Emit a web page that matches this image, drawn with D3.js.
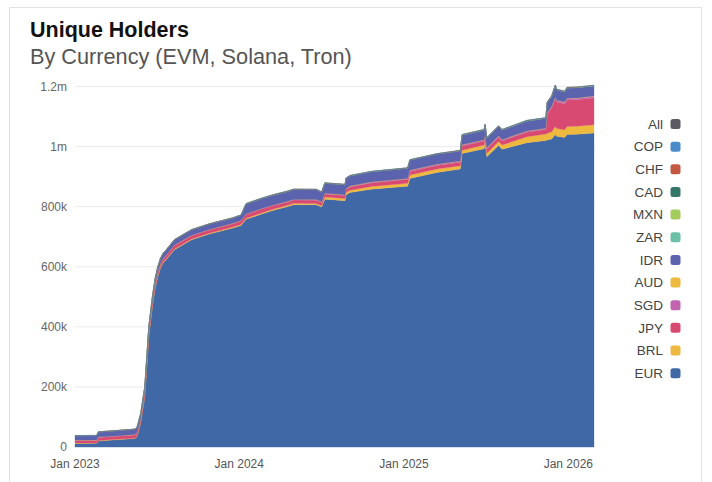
<!DOCTYPE html>
<html>
<head>
<meta charset="utf-8">
<script src="https://cdn.jsdelivr.net/npm/d3@7"></script>
<style>
  html, body { margin: 0; padding: 0; background: #fff; }
  svg { display: block; font-family: "Liberation Sans", Arial, Helvetica, sans-serif; }
</style>
</head>
<body>
<svg id="chart" width="712" height="482"></svg>
<script>
// dates of the sampled points (values in thousands of holders)
const dates = [
  "2023-01-01", "2023-02-18", "2023-02-22", "2023-04-01", "2023-05-14", "2023-05-19", "2023-05-27",
  "2023-06-05", "2023-06-14", "2023-06-22", "2023-06-28", "2023-07-04", "2023-07-10", "2023-07-16",
  "2023-07-23", "2023-08-10", "2023-09-17", "2023-10-28", "2023-12-18", "2024-01-05", "2024-01-16",
  "2024-02-20", "2024-03-15", "2024-04-16", "2024-05-01", "2024-06-20", "2024-07-02", "2024-07-09",
  "2024-08-23", "2024-08-25", "2024-09-03", "2024-10-20", "2025-01-09", "2025-01-14", "2025-03-15",
  "2025-05-06", "2025-05-10", "2025-06-28", "2025-06-30", "2025-07-04", "2025-07-30", "2025-08-07",
  "2025-10-01", "2025-11-12", "2025-11-15", "2025-11-25", "2025-12-03", "2025-12-06", "2025-12-24",
  "2025-12-29", "2026-01-20", "2026-02-27"
];

const eur = [12, 12.5, 20, 24, 28, 35, 79, 168, 368, 468, 527.5, 567.5, 595.5, 612.5, 624, 657, 690, 709.5, 729,
  737.5, 758, 775.5, 787, 799.5, 806.5, 806, 798.5, 825, 820, 839, 847, 858, 868, 894, 914, 925, 977, 993, 1010,
  966, 1004, 991, 1013, 1020, 1022, 1025, 1040, 1034, 1030, 1040, 1041, 1045];
const brl = [1, 1, 1.5, 1.5, 1.5, 1.5, 2, 2, 2.5, 2.5, 2.5, 2.5, 2.5, 2.5, 2.5, 2.5, 2.5, 3, 3, 3.5, 3.5, 3.5, 4,
  4.5, 4.5, 4.5, 4.5, 7, 7, 8, 8, 9, 10, 11, 11, 11, 11, 12, 12, 12, 13, 14, 20, 22, 22, 24, 27, 26, 26, 27, 27, 28];
const jpy = [8, 8, 10, 10, 10.5, 10.5, 11, 11, 11, 11, 11, 11, 11, 11, 11, 11, 11, 11, 11, 11.5, 12.5, 13, 12, 11,
  11, 11, 11, 10, 10, 10, 10.5, 12, 13, 12, 12, 12, 14, 14, 14, 14, 14, 14, 15, 15, 65, 80, 92, 88, 86, 88, 88, 89];
const sgd = [1, 1, 1, 1, 1, 1, 1, 1, 1, 1, 1, 1, 1, 1, 1, 1, 1, 1, 1, 1, 1.5, 1.5, 1.5, 1.5, 1.5, 1.5, 1.5, 2, 2,
  2, 2, 2, 2, 3, 3, 3, 3, 3, 3, 3, 3, 3, 3, 3, 3, 4, 5, 5, 5, 5, 5, 5];
const aud = [0.5, 0.5, 0.5, 0.5, 0.5, 0.5, 0.5, 0.5, 0.5, 0.5, 0.5, 0.5, 0.5, 0.5, 0.5, 0.5, 0.5, 0.5, 0.5, 0.5,
  0.5, 0.5, 0.5, 0.5, 0.5, 0.5, 0.5, 1, 1, 1, 1, 1, 1, 1, 1, 1, 1, 1, 1, 1, 1, 1, 1, 1, 1, 1, 1, 1, 1, 1, 1, 1];
const idr = [15, 15, 17, 17, 17.5, 17.5, 17.5, 17.5, 17.5, 17.5, 17.5, 17.5, 17.5, 17.5, 17.5, 18, 18, 18, 18, 18,
  33, 33, 33, 33, 33, 33, 32, 33, 33, 34, 34, 34, 34, 34, 34, 34, 32, 32, 32, 32, 32, 32, 33, 33, 33, 33, 38, 35,
  34, 34, 34, 34];
const zar = [0.2, 0.2, 0.2, 0.2, 0.2, 0.2, 0.2, 0.2, 0.2, 0.2, 0.2, 0.2, 0.2, 0.2, 0.2, 0.2, 0.2, 0.2, 0.2, 0.2,
  0.4, 0.4, 0.4, 0.4, 0.4, 0.4, 0.4, 0.4, 0.4, 0.4, 0.4, 0.4, 0.4, 0.4, 0.4, 0.4,
  0.6, 0.6, 0.6, 0.6, 0.6, 0.6, 0.6, 0.6, 0.6, 0.6, 0.6, 0.6, 0.6, 0.6, 0.6, 0.6];
const mxn = [0.1, 0.1, 0.1, 0.1, 0.1, 0.1, 0.1, 0.1, 0.1, 0.1, 0.1, 0.1, 0.1, 0.1, 0.1, 0.1, 0.1, 0.1, 0.1, 0.1,
  0.3, 0.3, 0.3, 0.3, 0.3, 0.3, 0.3, 0.3, 0.3, 0.3, 0.3, 0.3, 0.3, 0.3, 0.3, 0.3,
  0.5, 0.5, 0.5, 0.5, 0.5, 0.5, 0.5, 0.5, 0.5, 0.5, 0.5, 0.5, 0.5, 0.5, 0.5, 0.5];
const cad = [0.2, 0.2, 0.2, 0.2, 0.2, 0.2, 0.2, 0.2, 0.2, 0.2, 0.2, 0.2, 0.2, 0.2, 0.2, 0.2, 0.2, 0.2, 0.2, 0.2,
  0.5, 0.5, 0.5, 0.5, 0.5, 0.5, 0.5, 0.5, 0.5, 0.5, 0.5, 0.5, 0.5, 0.5, 0.5, 0.5,
  0.8, 0.8, 0.8, 0.8, 0.8, 0.8, 0.8, 0.8, 0.8, 0.8, 0.8, 0.8, 0.8, 0.8, 0.8, 0.8];
const chf = [0.1, 0.1, 0.1, 0.1, 0.1, 0.1, 0.1, 0.1, 0.1, 0.1, 0.1, 0.1, 0.1, 0.1, 0.1, 0.1, 0.1, 0.1, 0.1, 0.1,
  0.2, 0.2, 0.2, 0.2, 0.2, 0.2, 0.2, 0.2, 0.2, 0.2, 0.2, 0.2, 0.2, 0.2, 0.2, 0.2,
  0.3, 0.3, 0.3, 0.3, 0.3, 0.3, 0.3, 0.3, 0.3, 0.3, 0.3, 0.3, 0.3, 0.3, 0.3, 0.3];
const cop = [0.1, 0.1, 0.1, 0.1, 0.1, 0.1, 0.1, 0.1, 0.1, 0.1, 0.1, 0.1, 0.1, 0.1, 0.1, 0.1, 0.1, 0.1, 0.1, 0.1,
  0.1, 0.1, 0.1, 0.1, 0.1, 0.1, 0.1, 0.1, 0.1, 0.1, 0.1, 0.1, 0.1, 0.1, 0.1, 0.1,
  0.2, 0.2, 0.2, 0.2, 0.2, 0.2, 0.2, 0.2, 0.2, 0.2, 0.2, 0.2, 0.2, 0.2, 0.2, 0.2];

// stack order bottom -> top
const seriesKeys = ["EUR", "BRL", "JPY", "SGD", "AUD", "IDR", "ZAR", "MXN", "CAD", "CHF", "COP"];
const seriesValues = { EUR: eur, BRL: brl, JPY: jpy, SGD: sgd, AUD: aud, IDR: idr, ZAR: zar, MXN: mxn, CAD: cad, CHF: chf, COP: cop };
const colors = {
  All: "#5b5b61", COP: "#4a8bc9", CHF: "#c45741", CAD: "#33776a", MXN: "#a3cc5a", ZAR: "#6cc0a8",
  IDR: "#5b63ae", AUD: "#eeb93f", SGD: "#c264ae", JPY: "#d94a73", BRL: "#eeb93f", EUR: "#4068a6"
};
const legendKeys = ["All", "COP", "CHF", "CAD", "MXN", "ZAR", "IDR", "AUD", "SGD", "JPY", "BRL", "EUR"];
const yTicks = [0, 200000, 400000, 600000, 800000, 1000000, 1200000];
const xTicks = ["2023-01-01", "2024-01-01", "2025-01-01", "2026-01-01"];

const parse = d3.utcParse("%Y-%m-%d");
const rows = dates.map((d, i) => {
  const row = { date: parse(d) };
  seriesKeys.forEach(k => { row[k] = seriesValues[k][i] * 1000; });
  return row;
});

const svg = d3.select("#chart");

// card outline
svg.append("rect")
  .attr("x", 9.5).attr("y", 7.5)
  .attr("width", 692).attr("height", 500)
  .attr("fill", "#fff")
  .attr("stroke", "#e2e2e2");

svg.append("text")
  .attr("x", 30).attr("y", 37)
  .attr("font-size", 21.5).attr("font-weight", 700)
  .attr("fill", "#111")
  .text("Unique Holders");

svg.append("text")
  .attr("x", 30).attr("y", 64)
  .attr("font-size", 21.7)
  .attr("fill", "#555")
  .text("By Currency (EVM, Solana, Tron)");

const x = d3.scaleUtc()
  .domain([parse("2023-01-01"), parse("2026-02-27")])
  .range([75, 594]);
const y = d3.scaleLinear().domain([0, 1200000]).range([447, 86.5]);

// gridlines
svg.append("g")
  .selectAll("line")
  .data(yTicks)
  .join("line")
  .attr("x1", 75).attr("x2", 595)
  .attr("y1", d => y(d)).attr("y2", d => y(d))
  .attr("stroke", "#ebebeb");

const fmt = v => v === 0 ? "0" : v >= 1000000 ? (v / 1000000) + "m" : (v / 1000) + "k";

svg.append("g")
  .selectAll("text")
  .data(yTicks)
  .join("text")
  .attr("x", 67).attr("y", d => y(d))
  .attr("dy", "0.35em")
  .attr("text-anchor", "end")
  .attr("font-size", 12)
  .attr("fill", "#666")
  .text(fmt);

const stack = d3.stack().keys(seriesKeys)(rows);

const area = d3.area()
  .x(d => x(d.data.date))
  .y0(d => y(d[0]))
  .y1(d => y(d[1]));

svg.append("g")
  .selectAll("path")
  .data(stack)
  .join("path")
  .attr("fill", d => colors[d.key])
  .attr("stroke", d => colors[d.key])
  .attr("stroke-width", 0.3)
  .attr("d", area);

svg.append("g")
  .selectAll("text")
  .data(xTicks)
  .join("text")
  .attr("x", d => x(parse(d)))
  .attr("y", 468)
  .attr("text-anchor", "middle")
  .attr("font-size", 12)
  .attr("fill", "#555")
  .text(d => d3.utcFormat("%b %Y")(parse(d)));

// legend
const legend = svg.append("g")
  .selectAll("g")
  .data(legendKeys)
  .join("g")
  .attr("transform", (d, i) => `translate(0, ${124 + i * 22.65})`);

legend.append("text")
  .attr("x", 663).attr("y", 0)
  .attr("dy", "0.35em")
  .attr("text-anchor", "end")
  .attr("font-size", 13.5)
  .attr("fill", "#444")
  .text(d => d);

legend.append("rect")
  .attr("x", 670.5).attr("y", -5)
  .attr("width", 10).attr("height", 10)
  .attr("rx", 2.5)
  .attr("fill", d => colors[d]);
</script>
</body>
</html>
